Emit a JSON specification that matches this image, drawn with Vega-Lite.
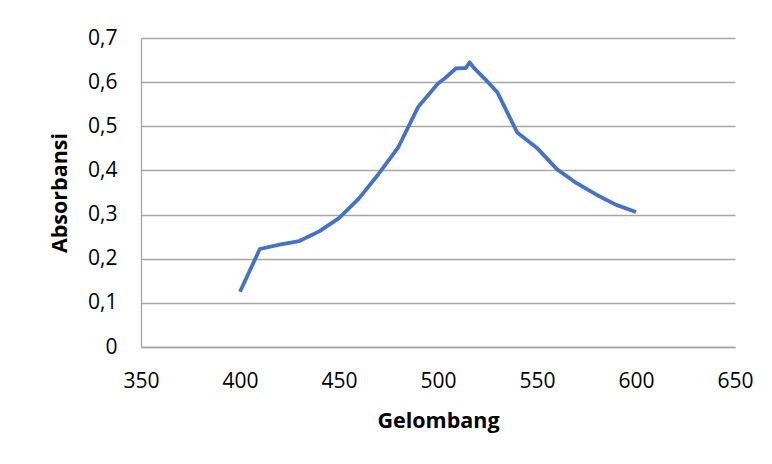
{
  "$schema": "https://vega.github.io/schema/vega-lite/v6.json",
  "width": 594,
  "height": 309,
  "autosize": {"type": "none"},
  "padding": {"left": 141, "top": 38, "right": 37, "bottom": 117},
  "background": "white",
  "data": {
    "values": [
      {"x": 400, "y": 0.125},
      {"x": 410, "y": 0.222},
      {"x": 420, "y": 0.232},
      {"x": 430, "y": 0.240},
      {"x": 440, "y": 0.262},
      {"x": 450, "y": 0.292},
      {"x": 460, "y": 0.336},
      {"x": 470, "y": 0.392},
      {"x": 480, "y": 0.453},
      {"x": 490, "y": 0.544},
      {"x": 500, "y": 0.597},
      {"x": 503, "y": 0.607},
      {"x": 509, "y": 0.631},
      {"x": 514, "y": 0.632},
      {"x": 516, "y": 0.645},
      {"x": 518, "y": 0.633},
      {"x": 525, "y": 0.601},
      {"x": 530, "y": 0.577},
      {"x": 540, "y": 0.486},
      {"x": 550, "y": 0.451},
      {"x": 560, "y": 0.403},
      {"x": 570, "y": 0.371},
      {"x": 580, "y": 0.345},
      {"x": 590, "y": 0.322},
      {"x": 600, "y": 0.306}
    ]
  },
  "mark": {"type": "line", "color": "#4472C4", "strokeWidth": 3.8, "strokeCap": "butt", "strokeJoin": "round"},
  "encoding": {
    "x": {
      "field": "x",
      "type": "quantitative",
      "scale": {"domain": [350, 650], "nice": false, "zero": false},
      "axis": {
        "values": [350, 400, 450, 500, 550, 600, 650],
        "title": "Gelombang",
        "grid": false,
        "ticks": false,
        "domainColor": "#a6a6a6",
        "domainWidth": 1.3,
        "labelPadding": 23,
        "titlePadding": 19,
        "labelFlush": false
      }
    },
    "y": {
      "field": "y",
      "type": "quantitative",
      "scale": {"domain": [0, 0.7], "nice": false},
      "axis": {
        "values": [0, 0.1, 0.2, 0.3, 0.4, 0.5, 0.6, 0.7],
        "labelExpr": "replace(format(datum.value, '~g'), '.', ',')",
        "title": "Absorbansi",
        "grid": true,
        "gridColor": "#a6a6a6",
        "gridWidth": 1.3,
        "ticks": false,
        "domainColor": "#a6a6a6",
        "domainWidth": 1.3,
        "labelPadding": 24,
        "titlePadding": 16,
        "labelFlush": false
      }
    }
  },
  "config": {
    "view": {"stroke": null},
    "axis": {
      "labelFont": "Open Sans",
      "labelFontSize": 21,
      "labelColor": "#000000",
      "titleFont": "Open Sans",
      "titleFontSize": 21.5,
      "titleFontWeight": "bold",
      "titleColor": "#000000"
    }
  }
}
